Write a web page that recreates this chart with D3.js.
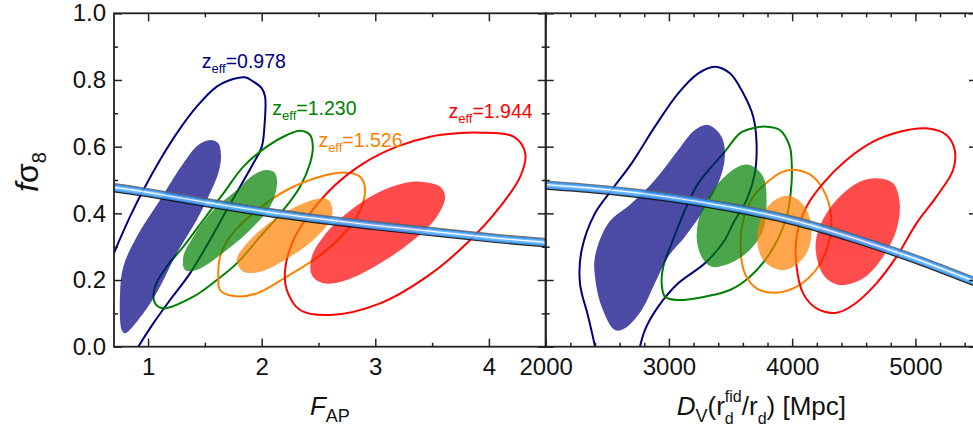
<!DOCTYPE html>
<html><head><meta charset="utf-8">
<script src="https://cdn.jsdelivr.net/npm/d3@7"></script>
<style>body{margin:0;background:#fff}svg{display:block}text{font-family:"Liberation Sans",Arial,Helvetica,sans-serif}</style>
</head><body><svg id="c" width="973" height="433"></svg>
<script>
// ---------- data ----------
const yDomain = [0, 1];
const xDomainL = [0.7, 4.5];
const xDomainR = [2000, 5500];
const yTicks = [0, 0.2, 0.4, 0.6, 0.8, 1.0];
const yMinor = [0.1, 0.3, 0.5, 0.7, 0.9];
const xTicksL = [1, 2, 3, 4];
const xMinorL = [1.5, 2.5, 3.5];
const xTicksR = [2000, 3000, 4000, 5000];
const xMinorR = [2200, 2400, 2600, 2800, 3200, 3400, 3600, 3800, 4200, 4400, 4600, 4800, 5200, 5400];

const zLabels = ["0.978", "1.230", "1.526", "1.944"];
const colors = ["#000080", "#008000", "#ff8000", "#ff0000"];
const labelPos = [[1.472, 0.836], [2.094, 0.695], [2.499, 0.600], [3.644, 0.685]];

// left panel (F_AP, fsigma8) contours
const navyOuterL = [[0.533,0.14],[0.70,0.281],[0.841,0.390],[0.958,0.470],[1.105,0.560],[1.252,0.640],[1.428,0.720],[1.604,0.780],[1.722,0.800],[1.854,0.808],[1.927,0.795],[2.001,0.775],[2.030,0.750],[2.024,0.660],[2.001,0.600],[1.927,0.550],[1.810,0.480],[1.692,0.410],[1.545,0.320],[1.369,0.220],[1.193,0.140],[1.046,0.070],[0.914,0.000],[0.823,-0.055]];
const navyFillL = [[1.545,0.620],[1.618,0.610],[1.642,0.570],[1.618,0.520],[1.545,0.460],[1.428,0.380],[1.252,0.280],[1.105,0.180],[0.958,0.100],[0.797,0.040],[0.768,0.050],[0.753,0.160],[0.782,0.240],[0.900,0.330],[1.105,0.440],[1.310,0.550],[1.442,0.605]];
const greenOuterL = [[2.338,0.648],[2.426,0.635],[2.450,0.600],[2.426,0.550],[2.338,0.480],[2.191,0.410],[1.986,0.330],[1.781,0.250],[1.604,0.200],[1.398,0.150],[1.134,0.115],[1.061,0.130],[1.061,0.180],[1.164,0.240],[1.310,0.300],[1.486,0.380],[1.663,0.460],[1.839,0.540],[2.045,0.600],[2.221,0.635]];
const greenFillL = [[2.045,0.530],[2.118,0.520],[2.133,0.480],[2.074,0.420],[1.927,0.360],[1.692,0.290],[1.428,0.230],[1.325,0.230],[1.310,0.270],[1.398,0.330],[1.574,0.410],[1.781,0.470],[1.927,0.515]];
const orangeOuterL = [[1.618,0.210],[1.633,0.170],[1.751,0.152],[1.957,0.160],[2.221,0.210],[2.573,0.290],[2.837,0.390],[2.910,0.470],[2.866,0.510],[2.749,0.522],[2.514,0.510],[2.221,0.470],[1.927,0.400],[1.722,0.330],[1.634,0.270]];
const orangeFillL = [[2.602,0.435],[2.617,0.390],[2.485,0.330],[2.250,0.270],[1.986,0.225],[1.839,0.225],[1.781,0.260],[1.869,0.310],[2.103,0.380],[2.367,0.430],[2.543,0.445]];
const redOuterL = [[3.923,0.642],[4.217,0.630],[4.320,0.580],[4.276,0.510],[4.099,0.420],[3.806,0.310],[3.454,0.210],[3.043,0.130],[2.602,0.095],[2.338,0.110],[2.221,0.170],[2.206,0.230],[2.279,0.320],[2.426,0.400],[2.631,0.480],[2.896,0.550],[3.190,0.600],[3.483,0.630],[3.718,0.640]];
const redFillL = [[3.395,0.495],[3.571,0.480],[3.615,0.450],[3.542,0.390],[3.336,0.320],[3.043,0.250],[2.749,0.200],[2.543,0.190],[2.441,0.215],[2.441,0.270],[2.543,0.330],[2.749,0.400],[3.013,0.460],[3.248,0.490]];

// right panel (D_V, fsigma8) contours
const navyOuterR = [[2416,-0.04],[2400,0.000],[2345,0.090],[2278,0.190],[2292,0.290],[2400,0.400],[2535,0.470],[2697,0.550],[2886,0.660],[3075,0.760],[3238,0.820],[3373,0.840],[3495,0.820],[3603,0.760],[3684,0.690],[3711,0.610],[3697,0.520],[3630,0.440],[3521,0.370],[3454,0.320],[3292,0.250],[3075,0.190],[2913,0.120],[2805,0.050],[2765,0.000],[2740,-0.04]];
const navyFillR = [[3319,0.665],[3427,0.630],[3454,0.570],[3400,0.490],[3265,0.400],[3130,0.330],[2994,0.270],[2886,0.190],[2779,0.110],[2643,0.055],[2562,0.050],[2454,0.120],[2400,0.210],[2400,0.270],[2508,0.370],[2697,0.430],[2886,0.500],[3075,0.590],[3211,0.650]];
const greenOuterR = [[2941,0.19],[2968,0.15],[3075,0.14],[3292,0.15],[3495,0.17],[3657,0.21],[3819,0.28],[3955,0.39],[3995,0.49],[3995,0.56],[3981,0.60],[3900,0.65],[3795,0.66],[3680,0.655],[3576,0.64],[3454,0.585],[3238,0.49],[3130,0.41],[3022,0.31],[2954,0.24]];
const greenFillR = [[3657,0.545],[3765,0.510],[3792,0.430],[3765,0.350],[3657,0.290],[3495,0.250],[3346,0.240],[3265,0.270],[3225,0.330],[3265,0.410],[3400,0.490],[3562,0.540]];
const orangeOuterR = [[4036,0.530],[4170,0.510],[4279,0.450],[4319,0.370],[4279,0.290],[4170,0.220],[4008,0.175],[3846,0.162],[3711,0.175],[3616,0.220],[3581,0.300],[3603,0.380],[3684,0.450],[3819,0.500],[3927,0.525]];
const orangeFillR = [[3981,0.452],[4103,0.420],[4157,0.350],[4117,0.280],[4008,0.240],[3900,0.230],[3765,0.260],[3716,0.320],[3752,0.390],[3860,0.440]];
const redOuterR = [[5090,0.655],[5252,0.635],[5319,0.590],[5306,0.530],[5171,0.450],[5009,0.370],[4847,0.270],[4684,0.190],[4495,0.125],[4360,0.102],[4198,0.115],[4089,0.160],[4036,0.240],[4036,0.330],[4117,0.420],[4251,0.490],[4441,0.560],[4657,0.615],[4873,0.645]];
const redFillR = [[4684,0.505],[4819,0.490],[4873,0.430],[4846,0.350],[4738,0.270],[4576,0.205],[4387,0.185],[4265,0.210],[4198,0.270],[4198,0.330],[4279,0.400],[4414,0.460],[4549,0.495]];

// model prediction bands
const bandLx = [0.7, 1.0, 1.5, 2.0, 2.5, 3.0, 3.5, 4.0, 4.5];
const bandLy = [0.477, 0.462, 0.433, 0.406, 0.383, 0.363, 0.345, 0.327, 0.312];
const bandRx = [2000, 2500, 3000, 3500, 4000, 4500, 5000, 5500];
const bandRy = [0.485, 0.470, 0.448, 0.418, 0.379, 0.325, 0.263, 0.192];

// ---------- drawing ----------
const svg = d3.select("#c");
const T = 13.3, B = 346.7, L = 114, M = 545.7, R = 977;
const yS = d3.scaleLinear().domain(yDomain).range([B, T]);
const xL = d3.scaleLinear().domain(xDomainL).range([L, M]);
const xR = d3.scaleLinear().domain(xDomainR).range([M, R]);

const defs = svg.append("defs");
defs.append("clipPath").attr("id", "clipL").append("rect").attr("x", L).attr("y", T).attr("width", M - L).attr("height", B - T);
defs.append("clipPath").attr("id", "clipR").append("rect").attr("x", M).attr("y", T).attr("width", R - M).attr("height", B - T);

function drawPanel(x, clip, outers, fills, openFlags, bx, by) {
  const g = svg.append("g").attr("clip-path", `url(#${clip})`);
  const lo = d3.line().x(d => x(d[0])).y(d => yS(d[1])).curve(d3.curveCatmullRom.alpha(0.5));
  const lc = d3.line().x(d => x(d[0])).y(d => yS(d[1])).curve(d3.curveCatmullRomClosed.alpha(0.5));
  outers.forEach((o, i) => {
    g.append("path").attr("d", (openFlags[i] ? lo : lc)(o))
      .attr("fill", "none").attr("stroke", colors[i]).attr("stroke-width", 2);
  });
  fills.forEach((f, i) => {
    g.append("path").attr("d", lc(f)).attr("fill", colors[i]).attr("fill-opacity", 0.7);
  });
  const band = bx.map((v, i) => [v, by[i]]);
  const bl = d3.line().x(d => x(d[0])).y(d => yS(d[1])).curve(d3.curveNatural);
  const bd = bl(band);
  const bg = g.append("g").attr("opacity", 0.9);
  bg.append("path").attr("d", bd).attr("fill", "none").attr("stroke", "#666").attr("stroke-width", 8.6).attr("transform", "translate(0,-0.3)");
  bg.append("path").attr("d", bd).attr("fill", "none").attr("stroke", "#111").attr("stroke-width", 8).attr("transform", "translate(0,0.7)");
  bg.append("path").attr("d", bd).attr("fill", "none").attr("stroke", "#2f8cf0").attr("stroke-width", 7);
  bg.append("path").attr("d", bd).attr("fill", "none").attr("stroke", "#5fb4ff").attr("stroke-width", 4.2);
  bg.append("path").attr("d", bd).attr("fill", "none").attr("stroke", "#ffffff").attr("stroke-width", 1.3).attr("transform", "translate(0,-0.3)");
}

drawPanel(xL, "clipL",
  [navyOuterL, greenOuterL, orangeOuterL, redOuterL],
  [navyFillL, greenFillL, orangeFillL, redFillL],
  [true, false, false, false], bandLx, bandLy);
drawPanel(xR, "clipR",
  [navyOuterR, greenOuterR, orangeOuterR, redOuterR],
  [navyFillR, greenFillR, orangeFillR, redFillR],
  [true, false, false, false], bandRx, bandRy);

// axes
const axColor = "#222";
function styleAxis(sel) {
  sel.select(".domain").remove();
  sel.selectAll(".tick line").attr("stroke", axColor).attr("stroke-width", 1.5);
  sel.selectAll(".tick text").attr("fill", "#111").style("font-size", "24px")
    .style("font-family", '"Liberation Sans", Arial, sans-serif');
}
function addAxis(axis, tx, ty) {
  const g = svg.append("g").attr("transform", `translate(${tx},${ty})`).call(axis);
  styleAxis(g);
  return g;
}
const none = () => "";
// bottom
addAxis(d3.axisBottom(xL).tickValues(xTicksL).tickSizeInner(-8).tickSizeOuter(0).tickPadding(11).tickFormat(d3.format("d")), 0, B);
addAxis(d3.axisBottom(xL).tickValues(xMinorL).tickSizeInner(-4).tickSizeOuter(0).tickFormat(none), 0, B);
addAxis(d3.axisBottom(xR).tickValues(xTicksR).tickSizeInner(-8).tickSizeOuter(0).tickPadding(11).tickFormat(d3.format("d")), 0, B);
addAxis(d3.axisBottom(xR).tickValues(xMinorR).tickSizeInner(-4).tickSizeOuter(0).tickFormat(none), 0, B);
// top
addAxis(d3.axisTop(xL).tickValues(xTicksL).tickSizeInner(-8).tickSizeOuter(0).tickFormat(none), 0, T);
addAxis(d3.axisTop(xL).tickValues(xMinorL).tickSizeInner(-4).tickSizeOuter(0).tickFormat(none), 0, T);
addAxis(d3.axisTop(xR).tickValues(xTicksR).tickSizeInner(-8).tickSizeOuter(0).tickFormat(none), 0, T);
addAxis(d3.axisTop(xR).tickValues(xMinorR).tickSizeInner(-4).tickSizeOuter(0).tickFormat(none), 0, T);
// left
addAxis(d3.axisLeft(yS).tickValues(yTicks).tickSizeInner(-8).tickSizeOuter(0).tickPadding(8).tickFormat(d3.format(".1f")), L, 0);
addAxis(d3.axisLeft(yS).tickValues(yMinor).tickSizeInner(-4).tickSizeOuter(0).tickFormat(none), L, 0);
// divider: both sides
addAxis(d3.axisRight(yS).tickValues(yTicks).tickSizeInner(-8).tickSizeOuter(0).tickFormat(none), M, 0);
addAxis(d3.axisRight(yS).tickValues(yMinor).tickSizeInner(-4).tickSizeOuter(0).tickFormat(none), M, 0);
addAxis(d3.axisLeft(yS).tickValues(yTicks).tickSizeInner(-8).tickSizeOuter(0).tickFormat(none), M, 0);
addAxis(d3.axisLeft(yS).tickValues(yMinor).tickSizeInner(-4).tickSizeOuter(0).tickFormat(none), M, 0);
// right
addAxis(d3.axisRight(yS).tickValues(yTicks).tickSizeInner(-8).tickSizeOuter(0).tickFormat(none), R, 0);
addAxis(d3.axisRight(yS).tickValues(yMinor).tickSizeInner(-4).tickSizeOuter(0).tickFormat(none), R, 0);

// frames
svg.append("rect").attr("x", L).attr("y", T).attr("width", M - L).attr("height", B - T)
  .attr("fill", "none").attr("stroke", axColor).attr("stroke-width", 1.8);
svg.append("rect").attr("x", M).attr("y", T).attr("width", R - M).attr("height", B - T)
  .attr("fill", "none").attr("stroke", axColor).attr("stroke-width", 1.8);

// z_eff annotations
zLabels.forEach((z, i) => {
  const t = svg.append("text").attr("x", xL(labelPos[i][0])).attr("y", yS(labelPos[i][1]))
    .attr("fill", colors[i]).style("font-size", "19.5px");
  t.append("tspan").text("z");
  t.append("tspan").attr("dy", 5).style("font-size", "13px").text("eff");
  t.append("tspan").attr("dy", -5).text("=" + z);
});

// axis titles
const tL = svg.append("text").attr("x", (L + M) / 2).attr("y", 415).attr("text-anchor", "middle")
  .attr("fill", "#111").style("font-size", "26px");
tL.append("tspan").style("font-style", "italic").text("F");
tL.append("tspan").attr("dy", 7).style("font-size", "18px").text("AP");

const tR = svg.append("text").attr("x", (M + R) / 2).attr("y", 415).attr("text-anchor", "middle")
  .attr("fill", "#111").style("font-size", "26px");
tR.append("tspan").style("font-style", "italic").text("D");
tR.append("tspan").attr("dy", 7).style("font-size", "18px").text("V");
tR.append("tspan").attr("dy", -7).text("(r");
tR.append("tspan").attr("dy", 9).style("font-size", "16px").text("d");
tR.append("tspan").attr("dx", -8.9).attr("dy", -22).style("font-size", "16px").text("fid");
tR.append("tspan").attr("dy", 13).text("/r");
tR.append("tspan").attr("dy", 9).style("font-size", "16px").text("d");
tR.append("tspan").attr("dy", -9).text(") [Mpc]");

const tY = svg.append("text").attr("transform", "translate(38,172) rotate(-90)")
  .attr("text-anchor", "middle").attr("fill", "#111").style("font-size", "32px");
tY.append("tspan").style("font-style", "italic").text("f");
tY.append("tspan").text("σ");
tY.append("tspan").attr("dy", 8).style("font-size", "20px").text("8");
</script></body></html>
